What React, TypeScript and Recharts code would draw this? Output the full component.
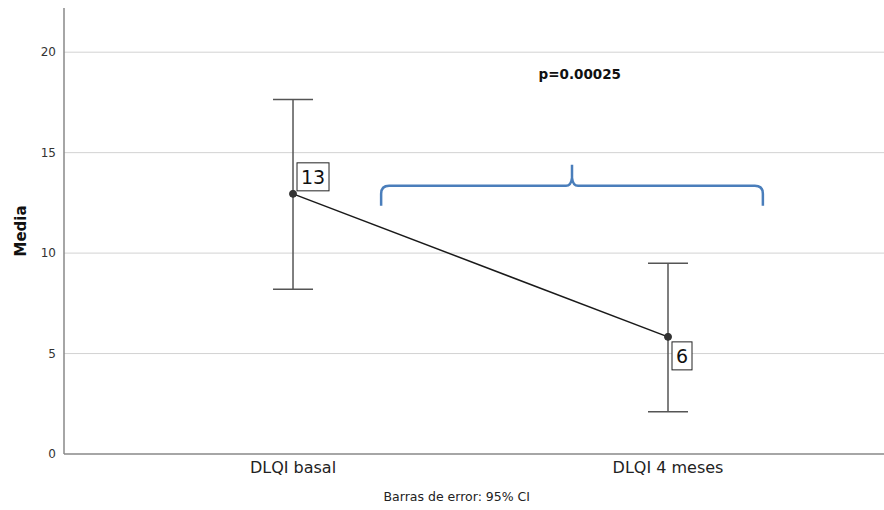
import {
  CartesianGrid,
  ErrorBar,
  Label,
  LabelList,
  Line,
  LineChart,
  ReferenceDot,
  ReferenceLine,
  XAxis,
  YAxis,
} from 'recharts'

const categorias = ['DLQI basal', 'DLQI 4 meses']
const medias = [12.95, 5.83]
const icInferior = [8.2, 2.1]
const icSuperior = [17.65, 9.5]
const rotulos = ['13', '6']
const ticksY = [0, 5, 10, 15, 20]
const linhasGrade = [5, 10, 15, 20]

// chave entre os dois grupos (coordenadas em unidades dos eixos)
const chaveInicio = 0.235
const chaveFim = 1.253
const chaveNivel = 13.35
const textoP = 'p=0.00025'
const textoPX = 0.77
const textoPY = 18.9

const fonte = '"DejaVu Sans", sans-serif'

const dados = categorias.map((nome, i) => ({
  x: i,
  nome,
  media: medias[i],
  erro: [medias[i] - icInferior[i], icSuperior[i] - medias[i]],
  rotulo: rotulos[i],
}))

function RotuloCaixa(props: any) {
  const { x, y, value, index } = props
  const largura = String(value).length * 12 + 8
  const altura = 28
  const bx = x + 4
  const by = index === 0 ? y - 31 : y + 5
  return (
    <g>
      <rect x={bx} y={by} width={largura} height={altura} fill="#fff" stroke="#222" strokeWidth={1} />
      <text
        x={bx + largura / 2}
        y={by + altura / 2 + 7}
        textAnchor="middle"
        fontFamily={fonte}
        fontSize={19}
        fill="#111"
      >
        {value}
      </text>
    </g>
  )
}

function Chave(props: any) {
  const { x1, x2, y1 } = props
  const xm = (x1 + x2) / 2
  const y = y1
  const d = [
    `M ${x1} ${y + 20}`,
    `L ${x1} ${y + 8}`,
    `Q ${x1} ${y} ${x1 + 8} ${y}`,
    `L ${xm - 6} ${y}`,
    `Q ${xm - 1} ${y} ${xm} ${y - 8}`,
    `L ${xm} ${y - 21}`,
    `M ${xm} ${y - 8}`,
    `Q ${xm + 1} ${y} ${xm + 6} ${y}`,
    `L ${x2 - 8} ${y}`,
    `Q ${x2} ${y} ${x2} ${y + 8}`,
    `L ${x2} ${y + 20}`,
  ].join(' ')
  return <path d={d} fill="none" stroke="#4a7ebb" strokeWidth={2.5} />
}

export default function App() {
  return (
    <div style={{ position: 'absolute', left: 0, top: 0, background: '#fff' }}>
      <LineChart width={884} height={510} data={dados} margin={{ top: 8, right: 0, bottom: 26, left: 0 }}>
        <CartesianGrid stroke="#d2d2d2" vertical={false} horizontalValues={linhasGrade} />
        <XAxis
          type="number"
          dataKey="x"
          domain={[-0.6107, 1.576]}
          ticks={[0, 1]}
          tickFormatter={(v: number) => categorias[v] ?? ''}
          allowDataOverflow
          height={30}
          tickLine={false}
          axisLine={{ stroke: '#888', strokeWidth: 1.5 }}
          tick={{ fill: '#222', fontSize: 16, fontFamily: fonte }}
        >
          <Label
            content={({ viewBox }: any) => (
              <text
                x={viewBox.x + viewBox.width * 0.479}
                y={viewBox.y + 47}
                textAnchor="middle"
                fontFamily={fonte}
                fontSize={12.5}
                fill="#222"
              >
                Barras de error: 95% CI
              </text>
            )}
          />
        </XAxis>
        <YAxis
          type="number"
          domain={[0, 22.2]}
          ticks={ticksY}
          allowDataOverflow
          width={64}
          tickLine={false}
          axisLine={{ stroke: '#888', strokeWidth: 1.5 }}
          tick={{ fill: '#333', fontSize: 12, fontFamily: fonte }}
        >
          <Label
            content={({ viewBox }: any) => (
              <text
                transform={`translate(${viewBox.x + 26}, ${viewBox.y + viewBox.height / 2}) rotate(-90)`}
                textAnchor="middle"
                fontFamily={fonte}
                fontSize={15}
                fontWeight="bold"
                fill="#111"
              >
                Media
              </text>
            )}
          />
        </YAxis>
        <ReferenceLine
          segment={[
            { x: chaveInicio, y: chaveNivel },
            { x: chaveFim, y: chaveNivel },
          ]}
          shape={Chave}
        />
        <ReferenceDot
          x={textoPX}
          y={textoPY}
          r={0}
          shape={(p: any) => (
            <text
              x={p.cx - 2}
              y={p.cy + 5}
              textAnchor="middle"
              fontFamily={fonte}
              fontSize={13.5}
              fontWeight="bold"
              fill="#111"
            >
              {textoP}
            </text>
          )}
        />
        <Line
          type="linear"
          dataKey="media"
          stroke="#1a1a1a"
          strokeWidth={1.5}
          dot={{ r: 3.5, fill: '#333', stroke: '#333', strokeWidth: 1 }}
          activeDot={false}
          isAnimationActive={false}
        >
          <ErrorBar dataKey="erro" direction="y" width={20} stroke="#555" strokeWidth={1.5} />
          <LabelList dataKey="rotulo" content={RotuloCaixa} />
        </Line>
      </LineChart>
    </div>
  )
}
